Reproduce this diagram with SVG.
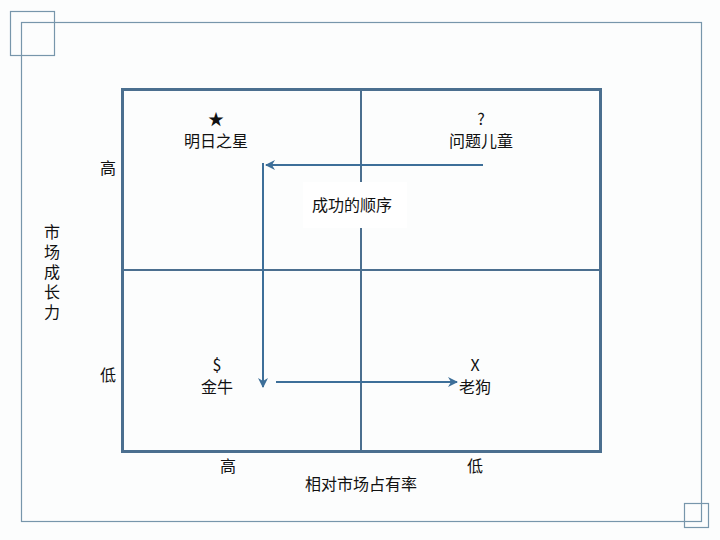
<svg xmlns="http://www.w3.org/2000/svg" width="720" height="540" viewBox="0 0 720 540">
<defs>
<style>
.t{font-family:"Noto Sans CJK SC","Liberation Sans",sans-serif;font-size:16px;fill:#111;text-anchor:middle}
.v{writing-mode:vertical-rl;letter-spacing:4px}
.frame{fill:none;stroke:#7796ab;stroke-width:1.2}
.grid{fill:none;stroke:#4b6f8f}
.arr{fill:none;stroke:#3d6f99;stroke-width:2}
</style>
<marker id="ah" viewBox="0 0 10 10" refX="9" refY="5" markerWidth="5" markerHeight="5" orient="auto" markerUnits="strokeWidth">
<path d="M0,0 L10,5 L0,10 L3,5 z" fill="#3d6f99"/>
</marker>
</defs>
<rect width="720" height="540" fill="#fcfdfd"/>
<g id="frame">
<rect class="frame" x="21.5" y="22.5" width="680" height="499"/>
<rect class="frame" x="10.5" y="11.5" width="44" height="44"/>
<rect class="frame" x="684.5" y="503.5" width="24" height="24"/>
</g>
<g id="matrix">
<rect class="grid" x="122.5" y="89.5" width="478" height="362" stroke-width="3"/>
<line class="grid" x1="361" y1="89" x2="361" y2="452" stroke-width="2"/>
<line class="grid" x1="122" y1="270" x2="600" y2="270" stroke-width="2"/>
</g>
<g id="connectors">
<line class="arr" x1="483" y1="165" x2="266" y2="165" marker-end="url(#ah)"/>
<line class="arr" x1="263" y1="163" x2="263" y2="387" marker-end="url(#ah)"/>
<line class="arr" x1="276" y1="382" x2="457" y2="382" marker-end="url(#ah)"/>
</g>
<g id="label-order">
<rect x="303" y="182" width="104" height="46" fill="#ffffff"/>
<text class="t" x="352" y="211">成功的顺序</text>
</g>
<g id="star">
<text class="t" x="216" y="125">★</text>
<text class="t" x="216" y="147">明日之星</text>
</g>
<g id="question">
<text class="t" x="481" y="125">?</text>
<text class="t" x="481" y="147">问题儿童</text>
</g>
<g id="cow">
<text class="t" x="217" y="371">$</text>
<text class="t" x="217" y="393">金牛</text>
</g>
<g id="dog">
<text class="t" x="475" y="371">X</text>
<text class="t" x="475" y="393">老狗</text>
</g>
<g id="axes">
<text class="t" x="108" y="174">高</text>
<text class="t" x="108" y="381">低</text>
<text class="t v" x="52" y="274">市场成长力</text>
<text class="t" x="228" y="472">高</text>
<text class="t" x="475" y="472">低</text>
<text class="t" x="361" y="490">相对市场占有率</text>
</g>
</svg>
